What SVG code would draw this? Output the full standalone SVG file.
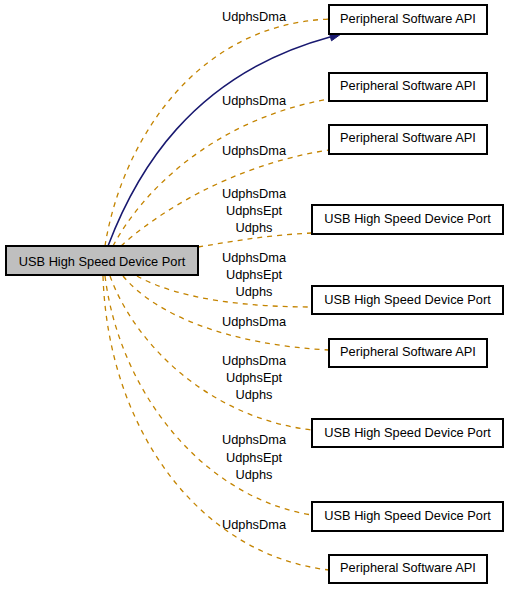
<svg xmlns="http://www.w3.org/2000/svg" width="509" height="589" viewBox="0 0 509 589">
<style>
.box{fill:#ffffff;stroke:#000000;stroke-width:2}
.main{fill:#bfbfbf;stroke:#000000;stroke-width:2}
.t{font-family:"Liberation Sans",Arial,sans-serif;font-size:12.8px;fill:#000000;text-anchor:middle}
.d{fill:none;stroke:#c48400;stroke-width:1.3;stroke-dasharray:5,5}
.s{fill:none;stroke:#191970;stroke-width:1.5}
</style>
<rect width="509" height="589" fill="#ffffff"/>
<g id="connectors">
<path class="d" d="M105,246 C120,150 190,25 329,19"/>
<path class="s" d="M108,246 C135,175 190,75 330,37"/>
<polygon points="341,34 331.5,40.8 329.3,33" fill="#191970" stroke="#191970" stroke-width="1"/>
<path class="d" d="M113,246 C140,195 210,120 329,99"/>
<path class="d" d="M121,246 C155,215 230,165 329,150"/>
<path class="d" d="M198,247 C240,240 270,235 312,233"/>
<path class="d" d="M137,276 C180,300 250,307 312,307"/>
<path class="d" d="M123,276 C155,315 230,345 329,350"/>
<path class="d" d="M110,276 C135,345 210,418 312,430"/>
<path class="d" d="M105,276 C120,395 205,498 312,515"/>
<path class="d" d="M103,276 C108,430 200,555 329,570"/>
<text class="t" x="254" y="21">UdphsDma</text>
<text class="t" x="254" y="105">UdphsDma</text>
<text class="t" x="254" y="155">UdphsDma</text>
<text class="t" x="254" y="198">UdphsDma</text>
<text class="t" x="254" y="215">UdphsEpt</text>
<text class="t" x="254" y="232">Udphs</text>
<text class="t" x="254" y="262">UdphsDma</text>
<text class="t" x="254" y="279">UdphsEpt</text>
<text class="t" x="254" y="296">Udphs</text>
<text class="t" x="254" y="326">UdphsDma</text>
<text class="t" x="254" y="365">UdphsDma</text>
<text class="t" x="254" y="382">UdphsEpt</text>
<text class="t" x="254" y="399">Udphs</text>
<text class="t" x="254" y="444">UdphsDma</text>
<text class="t" x="254" y="462">UdphsEpt</text>
<text class="t" x="254" y="479">Udphs</text>
<text class="t" x="254" y="529">UdphsDma</text>
</g>
<g id="main">
<rect class="main" x="6" y="246" width="192" height="29"/>
<text class="t" x="102" y="265.5">USB High Speed Device Port</text>
</g>
<g id="n1">
<rect class="box" x="329" y="5" width="158" height="29"/>
<text class="t" x="408" y="22.8">Peripheral Software API</text>
</g>
<g id="n2">
<rect class="box" x="329" y="73" width="158" height="28"/>
<text class="t" x="408" y="89.5">Peripheral Software API</text>
</g>
<g id="n3">
<rect class="box" x="329" y="125" width="158" height="29"/>
<text class="t" x="408" y="142">Peripheral Software API</text>
</g>
<g id="n4">
<rect class="box" x="312" y="205" width="191" height="29"/>
<text class="t" x="407.5" y="223">USB High Speed Device Port</text>
</g>
<g id="n5">
<rect class="box" x="312" y="286" width="191" height="28"/>
<text class="t" x="407.5" y="303.5">USB High Speed Device Port</text>
</g>
<g id="n6">
<rect class="box" x="329" y="339" width="158" height="28"/>
<text class="t" x="408" y="355.5">Peripheral Software API</text>
</g>
<g id="n7">
<rect class="box" x="312" y="419" width="191" height="28"/>
<text class="t" x="407.5" y="436.5">USB High Speed Device Port</text>
</g>
<g id="n8">
<rect class="box" x="312" y="502" width="191" height="29"/>
<text class="t" x="407.5" y="520">USB High Speed Device Port</text>
</g>
<g id="n9">
<rect class="box" x="329" y="555" width="158" height="28"/>
<text class="t" x="408" y="571.5">Peripheral Software API</text>
</g>
</svg>
